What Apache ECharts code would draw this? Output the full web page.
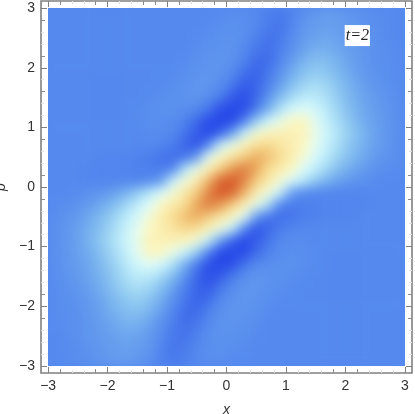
<!DOCTYPE html>
<html>
<head>
<meta charset="utf-8">
<style>
  html, body { margin: 0; padding: 0; background: #fff; }
  #chart { width: 415px; height: 414px; }
</style>
<script src="https://cdn.jsdelivr.net/npm/echarts@6/dist/echarts.min.js"></script>
</head>
<body>
<div id="chart"></div>
<script>
// cell centres of the density image
var xCenters = [-2.9,-2.7,-2.5,-2.3,-2.1,-1.9,-1.7,-1.5,-1.3,-1.1,-0.9,-0.7,-0.5,-0.3,-0.1,0.1,0.3,0.5,0.7,0.9,1.1,1.3,1.5,1.7,1.9,2.1,2.3,2.5,2.7,2.9];
var pCenters = [2.9,2.7,2.5,2.3,2.1,1.9,1.7,1.5,1.3,1.1,0.9,0.7,0.5,0.3,0.1,-0.1,-0.3,-0.5,-0.7,-0.9,-1.1,-1.3,-1.5,-1.7,-1.9,-2.1,-2.3,-2.5,-2.7,-2.9];

// values, top row (p=2.9) first, 0 = background blue
var wignerRows = [
  [0,0,0,0,0,0,0,0,0,0,0,0,0,0,1,2,2,0,-3,-5,-2,3,6,8,7,5,3,2,1,0],
  [0,0,0,0,0,0,0,0,0,0,0,0,0,1,2,3,2,0,-4,-6,-1,5,8,9,8,6,4,2,1,0],
  [0,0,0,0,0,0,0,0,0,0,0,0,1,2,3,4,2,-2,-7,-5,1,7,10,11,9,7,5,3,1,0],
  [0,0,0,0,0,0,0,0,0,0,0,0,2,3,4,4,0,-5,-8,-3,3,10,14,14,11,8,5,3,2,1],
  [0,0,0,0,0,0,0,0,0,0,0,1,3,4,5,3,-2,-9,-9,-1,8,15,18,17,14,10,6,3,2,1],
  [0,0,0,0,0,0,0,0,0,0,1,2,4,5,4,0,-8,-12,-5,3,13,19,22,20,16,11,7,4,2,1],
  [0,0,0,0,0,0,0,0,0,1,2,3,5,5,2,-5,-14,-11,-3,9,18,24,27,24,19,14,9,5,3,1],
  [0,0,0,0,0,0,0,0,1,2,3,4,5,2,-4,-14,-18,-10,4,17,26,31,31,27,21,15,11,7,4,2],
  [0,0,0,0,0,0,0,1,2,3,3,2,0,-6,-18,-23,-18,-4,14,28,38,41,37,30,23,17,12,8,5,2],
  [0,0,0,0,0,0,0,1,2,2,1,-2,-9,-19,-24,-20,-2,22,36,44,50,51,42,33,26,19,13,9,5,2],
  [0,0,0,0,0,0,0,0,1,1,0,-6,-14,-22,-12,10,33,47,51,53,53,52,43,35,28,21,15,10,5,2],
  [0,0,0,0,0,0,0,0,0,-1,-4,-10,-16,0,33,45,52,59,61,57,54,50,42,34,26,19,14,9,5,2],
  [0,0,0,0,-1,-1,-1,-2,-3,-6,-8,-6,8,42,50,57,63,68,65,60,54,47,38,30,23,17,12,7,4,2],
  [0,0,0,-1,-1,-1,-1,-2,-3,-4,-1,28,44,53,63,71,75,69,60,55,50,40,32,24,17,12,7,4,2,1],
  [0,0,0,-1,-1,-1,-1,-1,1,8,34,46,54,67,78,82,74,63,56,47,39,29,21,14,9,5,3,1,0,0],
  [0,0,1,3,5,9,14,21,29,39,47,56,63,74,82,78,67,54,46,34,8,1,-1,-1,-1,-1,-1,0,0,0],
  [1,2,4,7,12,17,24,32,40,50,55,60,69,75,71,63,53,44,28,-1,-4,-3,-2,-1,-1,-1,-1,0,0,0],
  [2,4,7,12,17,23,30,38,47,54,60,65,68,63,57,50,42,8,-6,-8,-6,-3,-2,-1,-1,-1,0,0,0,0],
  [2,5,9,14,19,26,34,42,50,54,57,61,59,52,45,33,0,-16,-10,-4,-1,0,0,0,0,0,0,0,0,0],
  [2,5,10,15,21,28,35,43,52,53,53,51,47,33,10,-12,-22,-14,-6,0,1,1,0,0,0,0,0,0,0,0],
  [2,5,9,13,19,26,33,42,51,50,44,36,22,-2,-20,-24,-19,-9,-2,1,2,2,1,0,0,0,0,0,0,0],
  [2,5,8,12,17,23,30,37,41,38,28,14,-4,-18,-23,-18,-6,0,2,3,3,2,1,0,0,0,0,0,0,0],
  [2,4,7,11,15,21,27,31,31,26,17,4,-10,-18,-14,-4,2,5,4,3,2,1,0,0,0,0,0,0,0,0],
  [1,3,5,9,14,19,24,27,24,18,9,-3,-11,-14,-5,2,5,5,3,2,1,0,0,0,0,0,0,0,0,0],
  [1,2,4,7,11,16,20,22,19,13,3,-5,-12,-8,0,4,5,4,2,1,0,0,0,0,0,0,0,0,0,0],
  [1,2,3,6,10,14,17,18,15,8,-1,-9,-9,-2,3,5,4,3,1,0,0,0,0,0,0,0,0,0,0,0],
  [1,2,3,5,8,11,14,14,10,3,-3,-8,-5,0,4,4,3,2,0,0,0,0,0,0,0,0,0,0,0,0],
  [0,1,3,5,7,9,11,10,7,1,-5,-7,-2,2,4,3,2,1,0,0,0,0,0,0,0,0,0,0,0,0],
  [0,1,2,4,6,8,9,8,5,-1,-6,-4,0,2,3,2,1,0,0,0,0,0,0,0,0,0,0,0,0,0],
  [0,1,2,3,5,7,8,6,3,-2,-5,-3,0,2,2,1,0,0,0,0,0,0,0,0,0,0,0,0,0,0]
];

var majorTicks = [-3,-2,-1,0,1,2,3];
var minorTicks = [-2.8,-2.6,-2.4,-2.2,-1.8,-1.6,-1.4,-1.2,-0.8,-0.6,-0.4,-0.2,0.2,0.4,0.6,0.8,1.2,1.4,1.6,1.8,2.2,2.4,2.6,2.8];
var darkMinorX = [-2.8,-2.2,-1.4,-1.2,-0.8,-0.2,1.8,2.2];
var darkMinorP = [2.8,2.2,1.6,0.8,0.2,-0.2,-1.8,-2.2];

var tempColors = ['#2748e8','#3c68ea','#5589ee','#6aa2ee','#8cc6f0','#b8e8f8','#ddfdff','#fcf8c4','#f7dd92','#e8a154','#d8582a'];
var labelFont = 'Liberation Sans';

var heatData = [];
for (var r = 0; r < pCenters.length; r++) {
  for (var c = 0; c < xCenters.length; c++) {
    heatData.push([c, pCenters.length - 1 - r, wignerRows[r][c]]);
  }
}

// one set of ticks on one side of the frame
function frameAxis(position, ticks, len, color, extra) {
  var axis = {
    type: 'value',
    gridIndex: 1,
    position: position,
    min: -3.12,
    max: 3.12,
    zlevel: 3,
    axisLine: { show: false, onZero: false },
    splitLine: { show: false },
    axisLabel: { show: false },
    axisTick: { show: true, inside: true, length: len, customValues: ticks, lineStyle: { color: color, width: 1 } }
  };
  return Object.assign(axis, extra || {});
}

function tickLabel(v) {
  return String(v).replace('-', '\u2212');
}

function mainLabel() {
  return { show: true, customValues: majorTicks, margin: 6, fontSize: 14, color: '#333', fontFamily: labelFont, formatter: tickLabel };
}

var chart = echarts.init(document.getElementById('chart'));
chart.setOption({
  animation: false,
  backgroundColor: 'transparent',
  grid: [
    { left: 48, top: 8, width: 357, height: 358, outerBoundsMode: 'none' },
    { left: 41, right: 3, top: 1, bottom: 41, outerBoundsMode: 'none', show: true, zlevel: 3, backgroundColor: 'transparent', borderColor: '#808080', borderWidth: 1.6 }
  ],
  xAxis: [
    { type: 'category', gridIndex: 0, show: false, data: xCenters },
    frameAxis('bottom', majorTicks, 6, '#808080', {
      name: 'x', nameLocation: 'middle', nameGap: 30,
      nameTextStyle: { fontStyle: 'italic', fontSize: 14, color: '#333', fontFamily: labelFont },
      axisLabel: mainLabel()
    }),
    frameAxis('top', majorTicks, 6, '#808080'),
    frameAxis('bottom', minorTicks, 3, '#e2e2e2'),
    frameAxis('top', minorTicks, 3, '#e2e2e2'),
    frameAxis('bottom', darkMinorX, 4, '#8c8c8c'),
    frameAxis('top', darkMinorX, 4, '#8c8c8c')
  ],
  yAxis: [
    { type: 'category', gridIndex: 0, show: false, data: pCenters.slice().reverse() },
    frameAxis('left', majorTicks, 6, '#808080', {
      name: 'p', nameLocation: 'middle', nameGap: 28, nameRotate: 90,
      nameTextStyle: { fontStyle: 'italic', fontSize: 14, color: '#333', fontFamily: labelFont },
      axisLabel: mainLabel()
    }),
    frameAxis('right', majorTicks, 6, '#808080'),
    frameAxis('left', minorTicks, 3, '#e2e2e2'),
    frameAxis('right', minorTicks, 3, '#e2e2e2'),
    frameAxis('left', darkMinorP, 4, '#8c8c8c'),
    frameAxis('right', darkMinorP, 4, '#8c8c8c')
  ],
  visualMap: {
    show: false,
    seriesIndex: 0,
    min: -20,
    max: 80,
    inRange: { color: tempColors }
  },
  // blue under the blurred image, white ring hides what the blur leaks past the edge
  graphic: { elements: [
    { type: 'rect', zlevel: 0, shape: { x: 48, y: 8, width: 357, height: 358 }, style: { fill: '#5589ee' }, silent: true },
    { type: 'rect', zlevel: 2, shape: { x: 38, y: -2, width: 377, height: 378 }, style: { fill: 'none', stroke: '#fff', lineWidth: 20 }, silent: true }
  ] },
  series: [
    {
      type: 'heatmap',
      xAxisIndex: 0,
      yAxisIndex: 0,
      zlevel: 1,
      progressive: 0,
      data: heatData
    },
    {
      type: 'scatter',
      xAxisIndex: 1,
      yAxisIndex: 1,
      zlevel: 3,
      symbolSize: 1,
      itemStyle: { color: 'transparent', opacity: 1 },
      label: {
        show: true,
        position: 'inside',
        formatter: 't=2',
        backgroundColor: '#fff',
        opacity: 1,
        padding: [3, 1, 2, 1],
        fontFamily: 'Liberation Serif',
        fontStyle: 'italic',
        fontSize: 16,
        color: '#222'
      },
      data: [[2.2, 2.54]]
    }
  ]
});

// smooth the cells the way the original density plot is smoothed
var heatLayer = document.querySelector('canvas[data-zr-dom-id="zr_1"]');
if (heatLayer) {
  heatLayer.style.filter = 'blur(6px)';
}
</script>
</body>
</html>
